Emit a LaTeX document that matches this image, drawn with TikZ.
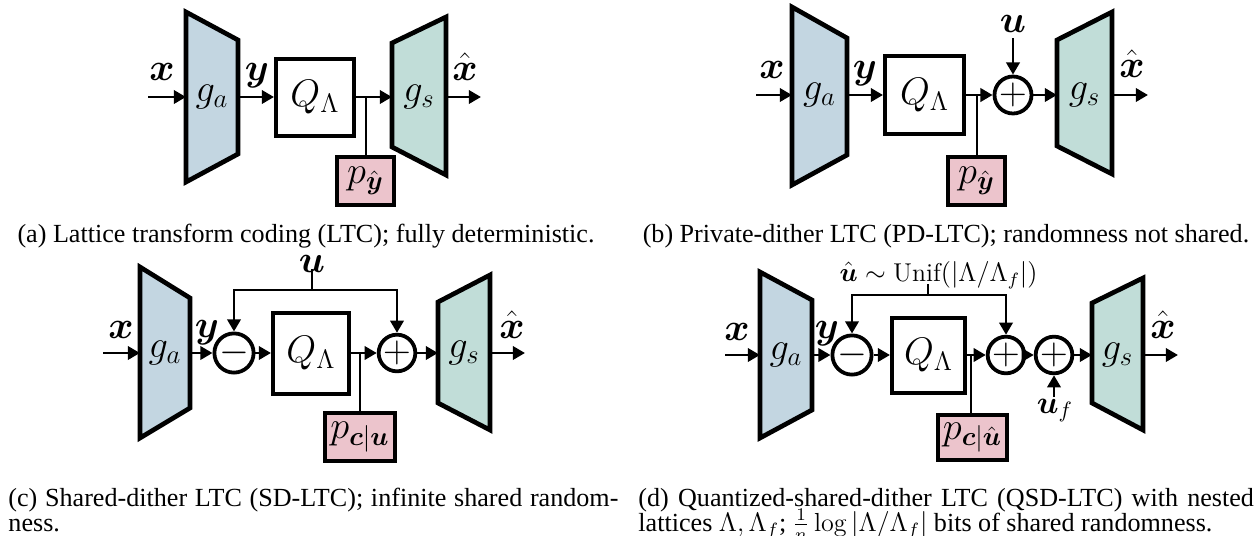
\documentclass[tikz,border=0pt]{standalone}
\usepackage{amsmath,amssymb}
\usepackage{fontspec}
\newfontfamily\capfont{Liberation Serif}
\usetikzlibrary{arrows.meta}
\definecolor{gablue}{RGB}{195,214,225}
\definecolor{gsgreen}{RGB}{193,221,216}
\definecolor{ppink}{RGB}{236,196,204}
\newcommand\dgfont{\fontsize{17.28}{20}\selectfont}
\newcommand\lbfont{\fontsize{14}{17}\selectfont}
\newcommand\smfont{\fontsize{11.6}{14}\selectfont}
\begin{document}
\begin{tikzpicture}[x=0.45pt,y=-0.45pt,
  trap/.style={draw, line width=2.1pt, line join=miter},
  qbox/.style={draw, line width=1.8pt, fill=white, inner sep=0pt, font=\dgfont},
  pbox/.style={draw, line width=1.8pt, fill=ppink, inner sep=0pt, font=\dgfont},
  sumc/.style={draw, circle, line width=1.7pt, inner sep=0pt, font=\dgfont},
  arr/.style={-{Triangle[length=5.5pt,width=6pt]}, line width=1.3pt},
  tapl/.style={line width=0.9pt},
  lbl/.style={anchor=base, inner sep=0pt, font=\dgfont},
  captxt/.style={inner sep=0pt, anchor=base, font=\capfont\fontsize{11.75}{12.2}\selectfont}]
\useasboundingbox (0,0) rectangle (1260,535);

% ================= (a) =================
\draw[trap, fill=gablue] (186,12) -- (238,40) -- (238,154) -- (186,182) -- cycle;
\node[font=\dgfont] (aga) at (212,97) {$g_a$};
\coordinate (agaW) at (186,97);
\coordinate (agaE) at (238,97);
\draw[trap, fill=gsgreen] (392,43) -- (446,17) -- (446,175) -- (392,147) -- cycle;
\node[font=\dgfont] (ags) at (419,97) {$g_s$};
\coordinate (agsW) at (392,97);
\coordinate (agsE) at (446,97);
\coordinate (ain) at (148,97);
\coordinate (aout) at (481,97);
\node[qbox, minimum width={78*0.45pt}, minimum height={77*0.45pt}] (aQ) at (315,97) {$Q_\Lambda$};
\node[pbox, minimum width={57*0.45pt}, minimum height={48*0.45pt}] (ap) at (365.5,181) {$p_{\hat{\boldsymbol{y}}}$};
\coordinate (atap) at (365.5,97);
\node[lbl] (ax) at (162,80) {$\boldsymbol{x}$};
\node[lbl] (ay) at (257,80) {$\boldsymbol{y}$};
\node[lbl] (axh) at (465,80) {$\hat{\boldsymbol{x}}$};
\draw[arr] (ain) -- (agaW);
\draw[arr] (agaE) -- (aQ.west);
\draw[arr] (aQ.east) -- (agsW);
\draw[tapl] (atap) -- (ap.north);
\draw[arr] (agsE) -- (aout);
\node[captxt] (acap) at (306,242) {(a) Lattice transform coding (LTC); fully deterministic.};

% ================= (b) =================
\draw[trap, fill=gablue] (792,7) -- (847,38) -- (847,155) -- (792,185) -- cycle;
\node[font=\dgfont] (bga) at (819.5,95) {$g_a$};
\coordinate (bgaW) at (792,95);
\coordinate (bgaE) at (847,95);
\draw[trap, fill=gsgreen] (1057,40) -- (1112,12) -- (1112,174) -- (1057,146) -- cycle;
\node[font=\dgfont] (bgs) at (1084.5,95) {$g_s$};
\coordinate (bgsW) at (1057,95);
\coordinate (bgsE) at (1112,95);
\coordinate (bin) at (756,95);
\coordinate (bout) at (1148,95);
\node[qbox, minimum width={79*0.45pt}, minimum height={78*0.45pt}] (bQ) at (924.5,95) {$Q_\Lambda$};
\node[pbox, minimum width={57*0.45pt}, minimum height={48*0.45pt}] (bp) at (976.5,181) {$p_{\hat{\boldsymbol{y}}}$};
\coordinate (btap) at (976.5,95);
\node[sumc, minimum size={37*0.45pt}] (bplus) at (1013,95) {$+$};
\node[lbl] (bx) at (772,78) {$\boldsymbol{x}$};
\node[lbl] (by) at (865,78) {$\boldsymbol{y}$};
\node[lbl] (bxh) at (1132,77) {$\hat{\boldsymbol{x}}$};
\node[lbl] (bu) at (1013,32) {$\boldsymbol{u}$};
\draw[arr] (bin) -- (bgaW);
\draw[arr] (bgaE) -- (bQ.west);
\draw[arr] (bQ.east) -- (bplus.west);
\draw[tapl] (btap) -- (bp.north);
\draw[arr] (bu.south |- 0,38) -- (bplus.north);
\draw[arr] (bplus.east) -- (bgsW);
\draw[arr] (bgsE) -- (bout);
\node[captxt] (bcap) at (946,242) {(b) Private-dither LTC (PD-LTC); randomness not shared.};

% ================= (c) =================
\draw[trap, fill=gablue] (140,267) -- (190,298) -- (190,408) -- (140,438) -- cycle;
\node[font=\dgfont] (cga) at (165,353) {$g_a$};
\coordinate (cgaW) at (140,353);
\coordinate (cgaE) at (190,353);
\draw[trap, fill=gsgreen] (438,302) -- (490,275) -- (490,430) -- (438,403) -- cycle;
\node[font=\dgfont] (cgs) at (464,353) {$g_s$};
\coordinate (cgsW) at (438,353);
\coordinate (cgsE) at (490,353);
\coordinate (cin) at (103,353);
\coordinate (cout) at (525,353);
\node[sumc, minimum size={36*0.45pt}] (cminus) at (234,353) {$-$};
\node[qbox, minimum width={76*0.45pt}, minimum height={81*0.45pt}] (cQ) at (311,353) {$Q_\Lambda$};
\node[sumc, minimum size={36*0.45pt}] (cplus) at (397,353) {$+$};
\node[pbox, minimum width={70*0.45pt}, minimum height={48*0.45pt}] (cp) at (360,437) {$p_{\boldsymbol{c}|\boldsymbol{u}}$};
\coordinate (ctap) at (360,353);
\coordinate (cuj) at (312,290);
\node[lbl] (cx) at (121,338) {$\boldsymbol{x}$};
\node[lbl] (cy) at (207,337) {$\boldsymbol{y}$};
\node[lbl] (cxh) at (512,338) {$\hat{\boldsymbol{x}}$};
\node[lbl] (cu) at (312,272) {$\boldsymbol{u}$};
\draw[arr] (cin) -- (cgaW);
\draw[arr] (cgaE) -- (cminus.west);
\draw[arr] (cminus.east) -- (cQ.west);
\draw[arr] (cQ.east) -- (cplus.west);
\draw[tapl] (ctap) -- (cp.north);
\draw[arr] (cplus.east) -- (cgsW);
\draw[arr] (cgsE) -- (cout);
\draw[line width=1.3pt] (cu.south) ++(0,-3) -- (cuj);
\draw[arr] (cuj) -| (cminus.north);
\draw[arr] (cuj) -| (cplus.north);
\node[captxt, anchor=base west] (ccapa) at (8,506) {\makebox[274.5pt][s]{(c) Shared-dither LTC (SD-LTC); infinite shared random-}};
\node[captxt, anchor=base west] (ccapb) at (8,531) {ness.};

% ================= (d) =================
\draw[trap, fill=gablue] (760,272) -- (812,300) -- (812,410) -- (760,438) -- cycle;
\node[font=\dgfont] (dga) at (786,355) {$g_a$};
\coordinate (dgaW) at (760,355);
\coordinate (dgaE) at (812,355);
\draw[trap, fill=gsgreen] (1092,303) -- (1143,278) -- (1143,430) -- (1092,403) -- cycle;
\node[font=\dgfont] (dgs) at (1117.5,355) {$g_s$};
\coordinate (dgsW) at (1092,355);
\coordinate (dgsE) at (1143,355);
\coordinate (din) at (725,355);
\coordinate (dout) at (1178,355);
\node[sumc, minimum size={33*0.45pt}] (dminus) at (852,355) {$-$};
\node[qbox, minimum width={73*0.45pt}, minimum height={75*0.45pt}] (dQ) at (928.5,355) {$Q_\Lambda$};
\node[sumc, minimum size={35*0.45pt}] (dplusa) at (1006,355) {$+$};
\node[sumc, minimum size={35*0.45pt}] (dplusb) at (1054,355) {$+$};
\node[pbox, minimum width={69*0.45pt}, minimum height={45*0.45pt}] (dp) at (972.5,437.5) {$p_{\boldsymbol{c}|\hat{\boldsymbol{u}}}$};
\coordinate (dtap) at (971,355);
\coordinate (duj) at (928,295);
\node[lbl] (dx) at (737,340) {$\boldsymbol{x}$};
\node[lbl] (dy) at (827,338) {$\boldsymbol{y}$};
\node[lbl] (dxh) at (1163,338) {$\hat{\boldsymbol{x}}$};
\node[lbl, font=\smfont] (du) at (938.5,281) {$\hat{\boldsymbol{u}}\sim\mathrm{Unif}(|\Lambda/\Lambda_f|)$};
\node[lbl, font=\lbfont] (duf) at (1055,413) {$\boldsymbol{u}_f$};
\draw[arr] (din) -- (dgaW);
\draw[arr] (dgaE) -- (dminus.west);
\draw[arr] (dminus.east) -- (dQ.west);
\draw[arr] (dQ.east) -- (dplusa.west);
\draw[tapl] (dtap) -- (dtap |- dp.north);
\draw[arr] (dplusa.east) -- (dplusb.west);
\draw[arr] (dplusb.east) -- (dgsW);
\draw[arr] (dgsE) -- (dout);
\draw[line width=1.3pt] (duj) -- (duj |- 0,284);
\draw[arr] (duj) -| (dminus.north);
\draw[arr] (duj) -| (dplusa.north);
\draw[arr] (dplusb.south |- 0,397) -- (dplusb.south);
\node[captxt, anchor=base west] (dcapa) at (638,506) {\makebox[277pt][s]{(d) Quantized-shared-dither LTC (QSD-LTC) with nested}};
\node[captxt, anchor=base west] (dcapb) at (638,531) {lattices $\Lambda,\Lambda_f$; $\frac{1}{n}\log|\Lambda/\Lambda_f|$ bits of shared randomness.};
\end{tikzpicture}
\end{document}
